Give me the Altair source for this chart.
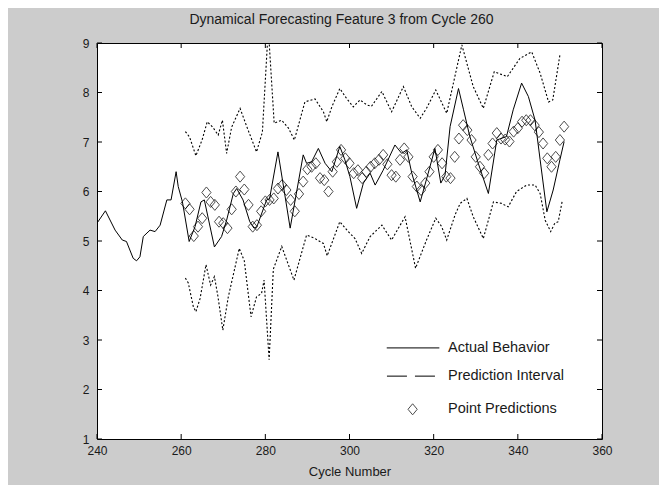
import altair as alt
import pandas as pd

# ---- data ----
actual_x = [240, 242, 244.3, 246, 247, 248.6, 249.4, 250.2, 251, 252.6,
            253.8, 255, 256.6, 257.6, 258.8, 259.3, 260.3, 261.9, 263.3, 264.7,
            265.5, 267.9, 269.6, 270.8, 272.4, 273.2, 274.7, 276.3, 277.3, 278,
            280.3, 281, 283, 285.9, 289, 289.8, 291, 292.6, 294.2, 295.8,
            297.7, 298.9, 300.1, 301.7, 303.3, 304.9, 306.1, 308, 310.8, 312.4,
            313.6, 314.8, 316.8, 318.7, 320.3, 321.7, 322.7, 323.9, 325.9, 327.1,
            328.6, 330.6, 333, 335, 337.3, 338.9, 340.9, 342.5, 344.1, 345.3,
            346.9, 348.4, 350, 351]
actual_y = [5.36, 5.61, 5.22, 5.02, 4.99, 4.65, 4.6, 4.68, 5.09, 5.22,
            5.19, 5.32, 5.83, 5.83, 6.4, 6.1, 5.79, 4.99, 5.29, 5.79,
            5.83, 4.88, 5.09, 5.42, 5.96, 6.06, 5.83, 5.39, 5.26, 5.29,
            5.83, 5.85, 6.8, 5.26, 6.74, 6.57, 6.6, 6.87, 6.57, 6.4,
            6.91, 6.64, 6.3, 5.66, 6.17, 6.37, 6.13, 6.43, 6.94, 6.77,
            6.84, 6.37, 5.79, 6.37, 6.87, 6.17, 6.33, 7.31, 8.08, 7.65,
            7.11, 6.57, 5.96, 7.04, 7.11, 7.65, 8.19, 7.92, 7.44, 6.64,
            5.59, 6.03, 6.64, 7.01]

pred_x = list(range(261, 352))
pred_y = [5.76, 5.64, 5.1, 5.29, 5.46, 5.98, 5.79, 5.73, 5.39, 5.36,
          5.26, 5.64, 6.0, 6.3, 6.04, 5.73, 5.29, 5.32, 5.6, 5.8,
          5.83, 5.86, 6.06, 6.13, 6.03, 5.83, 5.6, 5.95, 6.2, 6.45,
          6.5, 6.57, 6.27, 6.23, 6.0, 6.4, 6.6, 6.84, 6.67, 6.57,
          6.37, 6.43, 6.27, 6.4, 6.5, 6.57, 6.64, 6.74, 6.55, 6.33,
          6.3, 6.64, 6.87, 6.7, 6.3, 6.1, 6.03, 6.17, 6.4, 6.7,
          6.84, 6.57, 6.3, 6.27, 6.7, 7.07, 7.34, 7.24, 7.04, 6.7,
          6.5, 6.37, 6.74, 6.97, 7.18, 7.07, 7.05, 7.01, 7.21, 7.28,
          7.41, 7.44, 7.44, 7.34, 7.2, 6.97, 6.67, 6.5, 6.7, 7.04,
          7.31]

upper_x = [261, 262, 263.5, 265, 266.2, 267.5, 268.8, 269.8, 270.8, 272,
           274, 275.6, 277.9, 279.3, 280.7, 282.1, 283.9, 285.5, 286.9, 289.4,
           291.8, 293.8, 294.6, 295.8, 297.7, 299.3, 300.9, 302.5, 304.1, 305.2,
           307.7, 310, 312.8, 314.8, 316.8, 318.3, 320.5, 323.1, 326.7, 329.4,
           331.8, 334.4, 337.5, 340.5, 343.3, 345.3, 347.3, 348.3, 350]
upper_y = [7.21, 7.1, 6.72, 7.05, 7.41, 7.3, 7.14, 7.44, 6.77, 7.3,
           7.68, 7.31, 6.8, 7.2, 9.3, 7.38, 7.44, 7.28, 7.04, 7.81,
           7.87, 7.61, 7.41, 7.71, 8.08, 7.88, 7.71, 7.85, 7.75, 7.72,
           8.02, 7.61, 8.12, 7.71, 7.48, 7.68, 8.05, 7.58, 8.96, 8.12,
           7.68, 8.42, 8.32, 8.69, 8.82, 8.39, 7.81, 7.85, 8.76]

lower_x = [261, 261.7, 262.9, 263.5, 264.5, 265.9, 267, 267.9, 268.7, 269.9,
           271.2, 273.8, 275, 276.6, 277.9, 279.1, 279.7, 280.9, 281.9, 283.9,
           286.8, 289.8, 291.8, 293.8, 294.7, 297.7, 299.7, 301.3, 302.9, 304.9,
           307.7, 310, 313.2, 315.7, 318.3, 320.5, 321.9, 323.1, 325.1, 326.3,
           327.9, 329.4, 331.8, 334.2, 336.1, 337.7, 339.7, 342.1, 344.1, 345.3,
           346.5, 347.8, 348.8, 349.6, 350.6]
lower_y = [4.25, 4.15, 3.67, 3.57, 3.84, 4.52, 4.11, 4.28, 3.9, 3.2,
           3.87, 4.85, 4.6, 3.47, 3.87, 3.94, 4.21, 2.6, 4.43, 4.89,
           4.21, 5.12, 5.05, 4.95, 4.7, 5.39, 5.19, 5.05, 4.75, 5.09,
           5.32, 5.02, 5.49, 4.45, 5.02, 5.46, 5.29, 5.02, 5.53, 5.76,
           5.86, 5.49, 5.05, 5.79, 5.76, 5.69, 6.0, 6.13, 6.13, 5.96,
           5.42, 5.19, 5.36, 5.39, 5.83]

x_ticks = [240, 260, 280, 300, 320, 340, 360]
y_ticks = [1, 2, 3, 4, 5, 6, 7, 8, 9]

legend_labels = ["Actual Behavior", "Prediction Interval", "Point Predictions"]
legend_y = [2.84, 2.27, 1.60]

TITLE = "Dynamical Forecasting Feature 3 from Cycle 260"
W, H = 505, 396
FONT = "Liberation Sans"
INK = "#1a1a1a"
DIAMOND = "M0,-1.2L1,0L0,1.2L-1,0Z"

xs = alt.Scale(domain=[240, 360], nice=False, zero=False)
ys = alt.Scale(domain=[1, 9], nice=False, zero=False)

df_actual = pd.DataFrame({"x": actual_x, "y": actual_y})
df_pred = pd.DataFrame({"x": pred_x, "y": pred_y})
df_int = pd.concat([
    pd.DataFrame({"x": upper_x, "y": upper_y, "s": "upper"}),
    pd.DataFrame({"x": lower_x, "y": lower_y, "s": "lower"}),
])

x_axis = alt.Axis(values=x_ticks, ticks=False, domain=False, grid=False,
                  labelFont=FONT, labelFontSize=12, labelColor=INK, labelPadding=6,
                  labelFlush=False, labelOverlap=False,
                  title="Cycle Number", titleFont=FONT, titleFontSize=13,
                  titleFontWeight="normal", titleColor=INK, titleY=36,
                  titleBaseline="alphabetic")
y_axis = alt.Axis(values=y_ticks, ticks=False, domain=False, grid=False,
                  labelFont=FONT, labelFontSize=12, labelColor=INK, labelPadding=8,
                  labelFlush=False, labelOverlap=False, title=None)


def X(field):
    return alt.X(field, type="quantitative", scale=xs, axis=x_axis)


def Y(field):
    return alt.Y(field, type="quantitative", scale=ys, axis=y_axis)


actual = alt.Chart(df_actual).mark_line(color="black", strokeWidth=1, clip=True).encode(
    x=X("x"), y=Y("y"))

interval = alt.Chart(df_int).mark_line(color="black", strokeWidth=1.1, strokeDash=[2, 2],
                                       clip=True).encode(
    x=X("x"), y=Y("y"), detail="s:N")

points = alt.Chart(df_pred).mark_point(shape=DIAMOND, filled=False, color="black",
                                       size=85, strokeWidth=1).encode(
    x=X("x"), y=Y("y"))

# inward tick marks on all four sides
df_xt = pd.DataFrame({"t": x_ticks})
df_yt = pd.DataFrame({"t": y_ticks})
xt_bottom = alt.Chart(df_xt).mark_rule(color="black").encode(
    x=X("t"), y=alt.value(H), y2=alt.value(H - 5))
xt_top = alt.Chart(df_xt).mark_rule(color="black").encode(
    x=X("t"), y=alt.value(0), y2=alt.value(5))
yt_left = alt.Chart(df_yt).mark_rule(color="black").encode(
    y=Y("t"), x=alt.value(0), x2=alt.value(5))
yt_right = alt.Chart(df_yt).mark_rule(color="black").encode(
    y=Y("t"), x=alt.value(W - 5), x2=alt.value(W))

# legend (drawn in data coordinates)
df_leg = pd.DataFrame({"label": legend_labels, "y": legend_y,
                       "x0": [308.85] * 3, "x1": [321.35] * 3, "xt": [323.4] * 3,
                       "xd0": [308.9] * 3, "xd1": [320.6] * 3, "xm": [315.0] * 3})
leg_solid = alt.Chart(df_leg.iloc[[0]]).mark_rule(color="black", strokeWidth=1).encode(
    x=X("x0"), x2="x1:Q", y=Y("y"))
leg_dash = alt.Chart(df_leg.iloc[[1]]).mark_rule(color="black", strokeWidth=1,
                                                strokeDash=[20, 8]).encode(
    x=X("xd0"), x2="xd1:Q", y=Y("y"))
leg_diamond = alt.Chart(df_leg.iloc[[2]]).mark_point(shape=DIAMOND, filled=False,
                                                     color="black", size=85,
                                                     strokeWidth=1).encode(
    x=X("xm"), y=Y("y"))
leg_text = alt.Chart(df_leg).mark_text(align="left", baseline="middle", font=FONT,
                                       fontSize=14.5, color=INK).encode(
    x=X("xt"), y=Y("y"), text="label:N")

chart = alt.layer(
    actual, interval, points, xt_bottom, xt_top, yt_left, yt_right,
    leg_solid, leg_dash, leg_diamond, leg_text,
).properties(
    width=W, height=H,
    title=alt.TitleParams(TITLE, font=FONT, fontSize=14, fontWeight="normal",
                          color=INK, anchor="middle", dx=-8, offset=-1,
                          baseline="alphabetic"),
    autosize=alt.AutoSizeParams(type="none"),
    padding={"left": 89, "top": 35, "right": 57, "bottom": 46},
).configure(
    background="#cccccc",
).configure_view(
    fill="white", stroke="black", strokeWidth=1,
)

chart.save("out.html", embed_options={"renderer": "svg", "actions": False})
